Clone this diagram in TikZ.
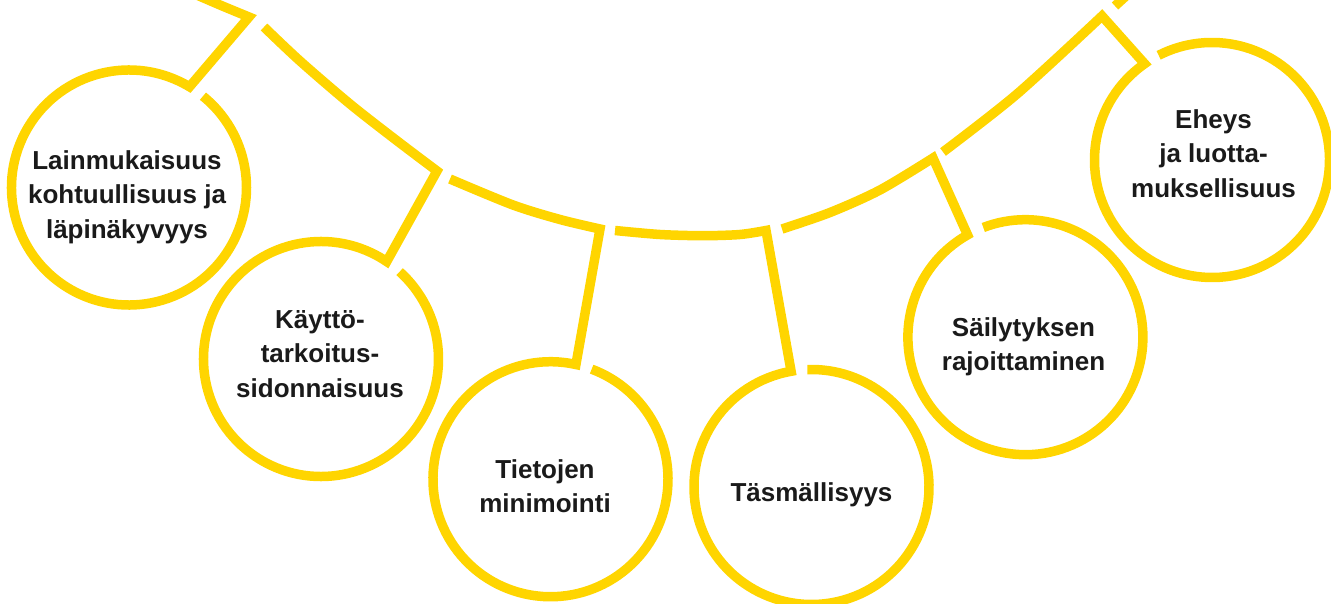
\documentclass[tikz,border=0pt]{standalone}
\usepackage{fontspec}
\setmainfont{Liberation Sans}
\definecolor{sunyellow}{RGB}{255,213,0}
\definecolor{inkblack}{RGB}{26,26,26}
\tikzset{
  % yellow band of the chain
  band/.style={draw=sunyellow, line width=9.5pt, line join=miter, line cap=butt},
  % circle that a label sits in
  ring/.style={circle, minimum size=235pt, inner sep=0pt, outer sep=0pt},
  % label text
  lbl/.style={align=center, text=inkblack, inner sep=0pt,
    font=\bfseries\fontsize{26}{34.5}\selectfont,
    execute at begin node=\strut, execute at end node=\strut},
}

\begin{document}
\begin{tikzpicture}[x=1pt, y=1pt]
  \useasboundingbox (0,0) rectangle (1331,603);

  % rings
  \node[ring] (lain) at (129,415.5) {};
  \node[ring] (kayt) at (321,244) {};
  \node[ring] (mini) at (549.5,124) {};
  \node[ring] (tasm) at (811.5,116) {};
  \node[ring] (sail) at (1024.5,265.3) {};
  \node[ring] (eheys) at (1212,443) {};

  % corners on the curve
  \coordinate (k1) at (249,586);
  \coordinate (k2) at (437,432);
  \coordinate (k3) at (600,374);
  \coordinate (k4) at (766,372.5);
  \coordinate (k5) at (933,445);
  \coordinate (k6) at (1102,587);

  % curve piece, corner, then round the ring
  \draw[band] plot[smooth] coordinates {(190,611) (220,598) (k1)}
    -- (lain.59) arc[start angle=59, end angle=411, radius=117.5pt];
  \draw[band] plot[smooth] coordinates {(264,576) (300,542) (350,499) (396,463) (k2)}
    -- (kayt.56) arc[start angle=56, end angle=408, radius=117.5pt];
  \draw[band] plot[smooth] coordinates {(450,424) (513,398) (560,383.5) (k3)}
    -- (mini.77.5) arc[start angle=77.5, end angle=429.5, radius=117.5pt];
  \draw[band] plot[smooth] coordinates {(615,372.5) (660,368.5) (703,367.3) (740,368.5) (k4)}
    -- (tasm.100) arc[start angle=100, end angle=452, radius=117.5pt];
  \draw[band] plot[smooth] coordinates {(782,374) (830,390.5) (880,413) (k5)}
    -- (sail.119.5) arc[start angle=119.5, end angle=471, radius=117.5pt];
  \draw[band] plot[smooth] coordinates {(943,451) (1017,509) (k6)}
    -- (eheys.125) arc[start angle=125, end angle=477, radius=117.5pt];
  \draw[band] (1115,597) -- (1137,617);

  % labels
  \node[lbl] (lainT) at (127,403.4) {Lainmukaisuus\\kohtuullisuus ja\\läpinäkyvyys};
  \node[lbl] (kaytT) at (320,243.9) {Käyttö-\\tarkoitus-\\sidonnaisuus};
  \node[lbl] (miniT) at (545,111.7) {Tietojen\\minimointi};
  \node[lbl] (tasmT) at (811.5,108.4) {Täsmällisyys};
  \node[lbl] (sailT) at (1023.5,253.7) {Säilytyksen\\rajoittaminen};
  \node[lbl] (eheysT) at (1213.5,444.4) {Eheys\\ja luotta-\\muksellisuus};
\end{tikzpicture}
\end{document}
